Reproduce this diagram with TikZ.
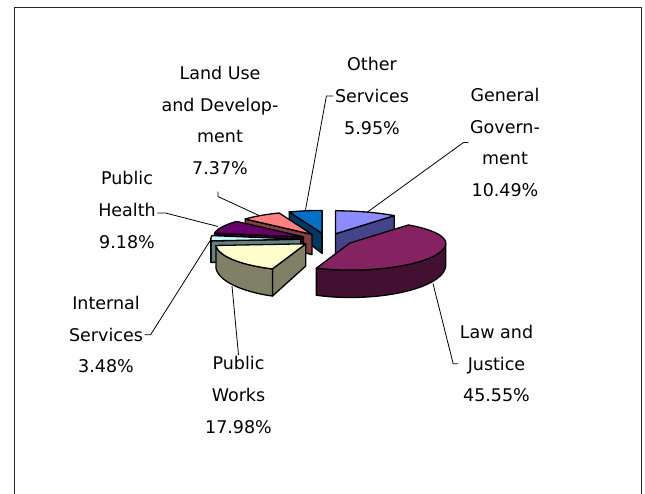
\documentclass[tikz,border=0pt]{standalone}
\usepackage{fontspec}
\setmainfont{DejaVu Sans}
\definecolor{ggT}{HTML}{8C8CFF}\definecolor{ggS}{HTML}{44448A}
\definecolor{ljT}{HTML}{842262}\definecolor{ljS}{HTML}{421131}
\definecolor{pwT}{HTML}{FFFFCC}\definecolor{pwS}{HTML}{808066}
\definecolor{isT}{HTML}{CCFFFF}\definecolor{isS}{HTML}{628282}
\definecolor{phT}{HTML}{660066}\definecolor{phS}{HTML}{330033}
\definecolor{luT}{HTML}{FF8080}\definecolor{luS}{HTML}{804040}
\definecolor{osT}{HTML}{0070C8}\definecolor{osS}{HTML}{003864}
\newcommand\rimpt[2]{%
  \pgfmathsetmacro\px{\ax+ifthenelse(sin(#1)<0,90,96)*sin(#1)}%
  \pgfmathsetmacro\py{\ay-ifthenelse(cos(#1)<0,27,23)*cos(#1)}%
  \pgfmathsetmacro\pyb{1.2*\py-26.6}%
  \coordinate (#2t) at (\px,\py);
  \coordinate (#2b) at (\px,\pyb);
}
\newcommand\pieslice[6]{%
  \def\ax{#5}\def\ay{#6}%
  \pgfmathsetmacro\ayb{1.2*#6-26.6}%
  \coordinate (A) at (\ax,\ay);
  \coordinate (B) at (\ax,\ayb);
  \rimpt{#1}{S}\rimpt{#2}{E}%
  \pgfmathtruncatemacro\vis{sin(#1)<(-0.01)}%
  \ifnum\vis=1 \filldraw[edge,fill=#4] (A)--(St)--(Sb)--(B)--cycle;\fi
  \pgfmathtruncatemacro\vis{sin(#2)>0.01}%
  \ifnum\vis=1 \filldraw[edge,fill=#4] (A)--(Et)--(Eb)--(B)--cycle;\fi
  \pgfmathsetmacro\wp{max(#1,90)}\pgfmathsetmacro\wq{min(#2,270)}%
  \pgfmathtruncatemacro\vis{\wq>\wp}%
  \ifnum\vis=1
    \filldraw[edge,fill=#4]
      plot[domain=\wp:\wq,samples=40,variable=\ang]
        ({\ax+ifthenelse(sin(\ang)<0,90,96)*sin(\ang)},{\ay-ifthenelse(cos(\ang)<0,27,23)*cos(\ang)})
      -- plot[domain=\wq:\wp,samples=40,variable=\ang]
        ({\ax+ifthenelse(sin(\ang)<0,90,96)*sin(\ang)},{1.2*(\ay-ifthenelse(cos(\ang)<0,27,23)*cos(\ang))-26.6})
      -- cycle;
  \fi
  \filldraw[edge,fill=#3] (A) --
      plot[domain=#1:#2,samples=50,variable=\ang]
        ({\ax+ifthenelse(sin(\ang)<0,90,96)*sin(\ang)},{\ay-ifthenelse(cos(\ang)<0,27,23)*cos(\ang)})
      -- cycle;
}
\begin{document}
\begin{tikzpicture}[x=1pt,y=-1pt,line join=round,
  edge/.style={draw=black,line width=1.3pt},
  lbl/.style={align=center,inner sep=1.5pt,font=\fontsize{17.5}{31.7}\selectfont},
  lead/.style={draw=black,line width=0.8pt}]
\useasboundingbox (0,0) rectangle (645,493);
\clip (0,0) rectangle (645,493);
\fill[white] (0,0) rectangle (645,493);
\draw[line width=1.4pt,black!85] (14.5,7.5) rectangle (641.5,520);

\pieslice{338.58}{360}{osT}{osS}{322.1}{233.4}
\pieslice{0}{37.76}{ggT}{ggS}{335.5}{233.8}
\pieslice{312.05}{338.58}{luT}{luS}{312}{234.4}
\pieslice{279}{312.05}{phT}{phS}{303.4}{236.8}
\pieslice{266.47}{279}{isT}{isS}{300.8}{239.2}
\pieslice{201.74}{266.47}{pwT}{pwS}{305.8}{243.8}
\pieslice{37.76}{201.74}{ljT}{ljS}{349.7}{243.1}

\coordinate (ggp) at (367.5,212);
\coordinate (osp) at (305.5,210);
\coordinate (lup) at (259,215.5);
\coordinate (php) at (218,226.5);
\coordinate (isp) at (211.5,238.5);
\coordinate (pwp) at (232,286);
\coordinate (ljp) at (433,283.5);

\node[lbl] (lu) at (220,120.5) {Land Use\\and Develop-\\ment\\7.37\%};
\node[lbl] (os) at (372,96) {Other\\Services\\5.95\%};
\node[lbl] (gg) at (505,142.5) {General\\Govern-\\ment\\10.49\%};
\node[lbl] (ph) at (127,210) {Public\\Health\\9.18\%};
\node[lbl] (is) at (106,334.7) {Internal\\Services\\3.48\%};
\node[lbl] (pw) at (238.5,395) {Public\\Works\\17.98\%};
\node[lbl] (lj) at (496.5,363.7) {Law and\\Justice\\45.55\%};

\draw[lead] (gg.west) -- ++(-5,0) -- (ggp);
\draw[lead] (os.west) -- ++(-7,0) -- (osp);
\draw[lead] ([xshift=-2pt,yshift=-15pt]lu.south) -- ++(0,5) -- (lup);
\draw[lead] ([yshift=-3pt]ph.east) -- ++(8,0) -- (php);
\draw[lead] (is.east) -- ++(6,0) -- (isp);
\draw[lead] (pw.north) -- (pwp);
\draw[lead] (lj.west) -- ++(-5,0) -- (ljp);
\end{tikzpicture}
\end{document}
